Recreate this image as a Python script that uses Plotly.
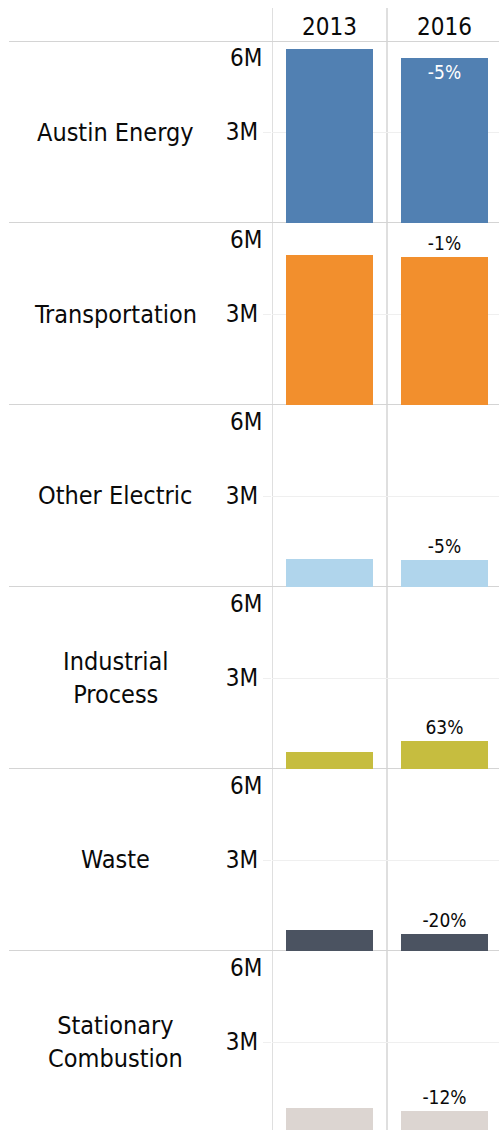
import plotly.graph_objects as go

# Emissions by sector (metric tons CO2e), 2013 vs 2016
categories = ["Austin Energy", "Transportation", "Other Electric",
              "Industrial<br>Process", "Waste", "Stationary<br>Combustion"]
years = ["2013", "2016"]
values_2013 = [5.74e6, 4.93e6, 0.92e6, 0.57e6, 0.68e6, 0.83e6]
values_2016 = [5.44e6, 4.88e6, 0.875e6, 0.93e6, 0.545e6, 0.73e6]
colors = ["#5180b2", "#f28f2d", "#b0d5ec", "#c6bd3f", "#4b5361", "#dcd5d1"]
tick_vals = [3e6]
tick_text = ["3M"]
top_label = "6M"
y_max = 6e6

FONT = "DejaVu Sans Condensed, DejaVu Sans, sans-serif"
TXT = "#0a0a0a"
W, H = 499, 1130
ML, MT = 272, 41
plot_w = W - ML
plot_h = H - MT
row_px = 182
col_px = 115
line_col = "#d4d4d4"
grid_col = "#efefef"

fig = go.Figure()
layout = dict(
    width=W, height=H,
    margin=dict(l=ML, r=0, t=MT, b=0, pad=0),
    paper_bgcolor="white", plot_bgcolor="white",
    showlegend=False, bargap=0,
    font=dict(family=FONT, size=24, color=TXT),
    xaxis=dict(
        type="category", categoryarray=years, anchor="y", side="top",
        range=[-0.5, -0.5 + plot_w / col_px], showgrid=False,
        zeroline=False, showline=False, ticks="",
        tickfont=dict(size=24, color=TXT), fixedrange=True,
    ),
)

shapes = []
annotations = []
for i, cat in enumerate(categories):
    top = row_px * i
    bottom = min(row_px * (i + 1), plot_h)
    lo = (row_px * (i + 1) - bottom) / row_px * y_max
    yname = "y" if i == 0 else f"y{i + 1}"
    ykey = "yaxis" if i == 0 else f"yaxis{i + 1}"
    layout[ykey] = dict(
        domain=[1 - bottom / plot_h, 1 - top / plot_h],
        range=[lo, y_max], anchor="x",
        tickvals=tick_vals, ticktext=tick_text,
        showgrid=True, gridcolor=grid_col, gridwidth=1,
        ticks="outside", ticklen=8, tickcolor=grid_col,
        zeroline=False, showline=False,
        tickfont=dict(size=24, color=TXT), fixedrange=True,
    )

    v13, v16 = values_2013[i], values_2016[i]
    pct = (v16 / v13 - 1) * 100
    label = f"{round(pct):.0f}%"
    inside = (v16 / y_max) > 0.85
    fig.add_trace(go.Bar(
        x=years, y=[v13, v16], xaxis="x", yaxis=yname,
        marker=dict(color=colors[i], line=dict(width=0)),
        width=87 / col_px,
        text=["", label],
        textposition=["none", "inside" if inside else "outside"],
        insidetextanchor="end",
        textangle=0,
        textfont=dict(size=19, family=FONT,
                      color=[TXT, "white" if inside else TXT]),
        cliponaxis=False,
        hoverinfo="skip",
    ))

    # sector name
    annotations.append(dict(
        text=cat, xref="paper", x=(115 - ML) / plot_w, xanchor="center",
        yref=yname, y=y_max / 2, yanchor="middle", showarrow=False,
        font=dict(size=25, family=FONT, color=TXT),
    ))
    # top tick label, nudged inside the pane
    annotations.append(dict(
        text=top_label, xref="paper", x=0, xanchor="right", xshift=-8,
        yref=yname, y=y_max, yanchor="middle", yshift=-17, showarrow=False,
        font=dict(size=24, family=FONT, color=TXT),
    ))
    # row separator at the baseline
    if bottom == row_px * (i + 1):
        shapes.append(dict(
            type="line", xref="paper", x0=(9 - ML) / plot_w, x1=1,
            yref=yname, y0=0, y1=0, layer="below",
            line=dict(color=line_col, width=2),
        ))

# top border of the first row
shapes.append(dict(
    type="line", xref="paper", x0=(9 - ML) / plot_w, x1=1,
    yref="y", y0=y_max, y1=y_max, layer="below",
    line=dict(color=line_col, width=2),
))
# column dividers
for xv in [-0.5, 0.5]:
    shapes.append(dict(
        type="line", xref="x", x0=xv, x1=xv,
        yref="paper", y0=0, y1=1 + (MT - 8) / plot_h, layer="below",
        line=dict(color=line_col, width=1.5),
    ))

layout["shapes"] = shapes
layout["annotations"] = annotations
fig.update_layout(**layout)
fig.write_html("out.html", config={"displayModeBar": False})
